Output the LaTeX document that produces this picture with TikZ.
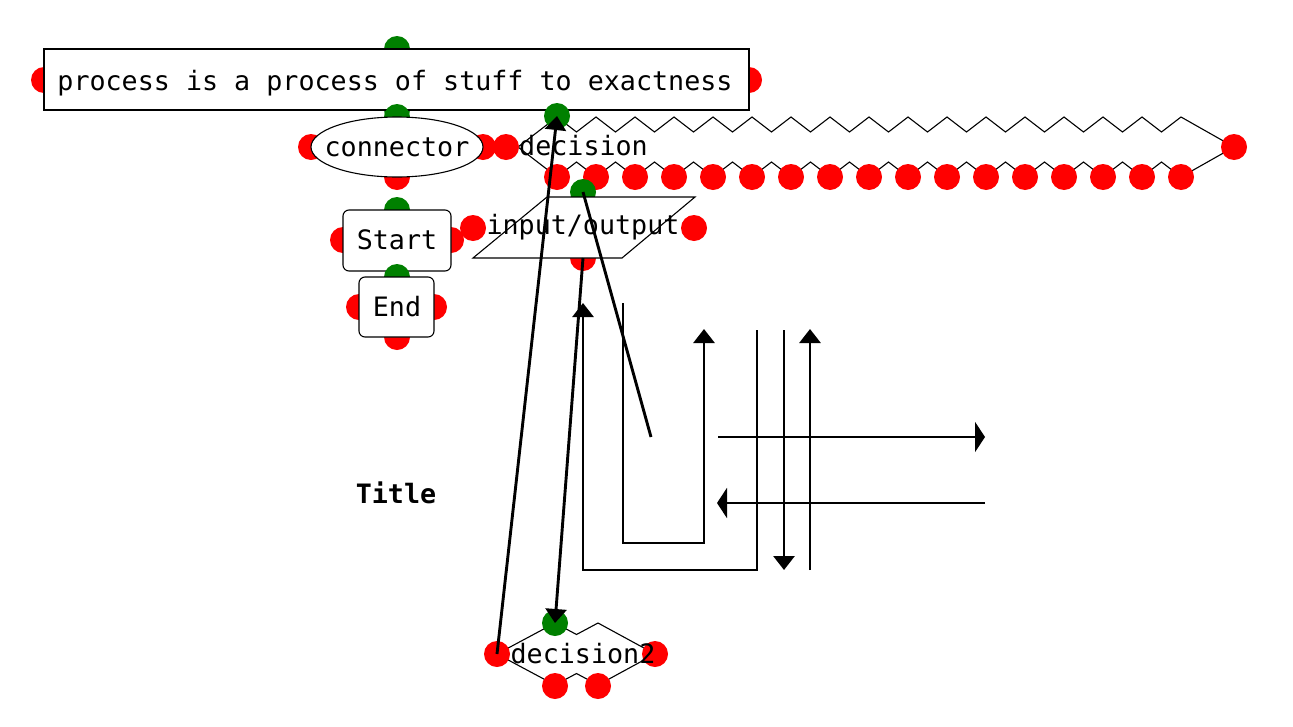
\documentclass[tikz,border=0pt]{standalone}
\usepackage{fontspec}
\setmainfont{DejaVu Sans Mono}
\usetikzlibrary{shapes.geometric,arrows.meta}
\definecolor{dkgreen}{RGB}{0,128,0}
\tikzset{
  reddot/.style={circle,fill=red,minimum size=26pt,inner sep=0pt,outer sep=0pt},
  greendot/.style={circle,fill=dkgreen,minimum size=26pt,inner sep=0pt,outer sep=0pt},
  shapeline/.style={draw=black,line width=1.1pt},
  txt/.style={font=\fontsize{26.7}{30}\selectfont,inner sep=0pt,anchor=base},
  conn/.style={line width=2.9pt,black},
  tipv/.style={-{Triangle[width=21pt,length=14pt]}},
  tiph/.style={-{Triangle[width=30pt,length=10pt]}},
}
\begin{document}
\begin{tikzpicture}[x=1pt,y=-1pt]
\useasboundingbox[fill=white] (0,0) rectangle (1293,726);
% ---- process
\node[greendot] (pt) at (397,49) {};
\node[greendot] (pb) at (397,110) {};
\node[reddot] (pl) at (44,80) {};
\node[reddot] (pr) at (749,80) {};
\node[shapeline,fill=white,minimum width=705pt,minimum height=61pt,inner sep=0pt] (proc) at (396.5,79.5) {};
\node[txt] (proctxt) at (395,90) {process is a process of stuff to exactness};
% ---- connector
\node[greendot] (ct) at (397,117) {};
\node[reddot] (cb) at (397,177) {};
\node[reddot] (cl) at (311,147) {};
\node[reddot] (cr) at (483,147) {};
\draw[shapeline,fill=white] (397,147) ellipse [x radius=86, y radius=30];
\node[txt] (conntxt) at (397,156) {connector};
% ---- decision
\draw[shapeline,line join=miter] (518,147) -- (557,117)
  \foreach \k in {1,...,16} { -- ({557+39*\k-19.5},132) -- ({557+39*\k},117) }
  -- (1234,147) -- (1181,177)
  \foreach \k in {15,...,0} { -- ({557+39*\k+19.5},162) -- ({557+39*\k},177) }
  -- cycle;
\node[greendot] (dt) at (557,116) {};
\node[reddot] (dl) at (506,147) {};
\node[reddot] (dr) at (1234,147) {};
\foreach \k in {0,...,16} \node[reddot] (db\k) at ({557+39*\k},177) {};
\node[txt] (dectxt) at (583.5,155) {decision};
% ---- start
\node[greendot] (st) at (397,210) {};
\node[reddot] (sl) at (343,240) {};
\node[reddot] (sr) at (451,240) {};
\node[shapeline,fill=white,rounded corners=6pt,minimum width=108pt,minimum height=61pt,inner sep=0pt] (start) at (397,240.5) {};
\node[txt] (starttxt) at (397,249) {Start};
% ---- end
\node[greendot] (et) at (397,277) {};
\node[reddot] (el) at (359,307) {};
\node[reddot] (er) at (434,307) {};
\node[reddot] (eb) at (397,337) {};
\node[shapeline,fill=white,rounded corners=6pt,minimum width=75pt,minimum height=60pt,inner sep=0pt] (endbox) at (396.5,307) {};
\node[txt] (endtxt) at (397,316) {End};
% ---- input/output
\node[greendot] (iot) at (583,192) {};
\node[reddot] (iol) at (473,228) {};
\node[reddot] (ior) at (694,228) {};
\node[reddot] (iob) at (583,258) {};
\draw[shapeline,fill=white] (547,197) -- (695,197) -- (622,258) -- (473,258) -- cycle;
\node[txt] (iotxt) at (583,234) {input/output};
% ---- decision2
\draw[shapeline,line join=miter] (497,654) -- (555,623) -- (576.5,634.5) -- (598,623) -- (655,654)
  -- (598,685) -- (576.5,673.5) -- (555,685) -- cycle;
\node[greendot] (d2t) at (555,623) {};
\node[reddot] (d2l) at (497,654) {};
\node[reddot] (d2r) at (655,654) {};
\node[reddot] (d2ba) at (555,686) {};
\node[reddot] (d2bb) at (598,686) {};
\node[txt] (d2txt) at (583,663) {decision2};
% ---- title
\node[txt,font=\fontsize{26.7}{30}\selectfont\bfseries] (title) at (396,503) {Title};
% ---- free coordinates
\coordinate (f1) at (651,437);
\coordinate (a1) at (757,330);
\coordinate (a1c) at (757,570);
\coordinate (a2c) at (583,570);
\coordinate (a2) at (583,303);
\coordinate (b1) at (623,303);
\coordinate (b1c) at (623,543);
\coordinate (b2c) at (704,543);
\coordinate (b2) at (704,329);
\coordinate (c1) at (784,330);
\coordinate (c2) at (784,570);
\coordinate (e1) at (810,570);
\coordinate (e2) at (810,329);
\coordinate (g1) at (718,437);
\coordinate (g2) at (985,437);
\coordinate (h1) at (985,503);
\coordinate (h2) at (717,503);
% ---- connectors
\draw[conn,tipv] (d2l.center) -- (dt.center);
\draw[conn] (iot.center) -- (f1);
\draw[conn,tipv] (iob.center) -- (d2t.center);
\draw[conn,tipv] (a1) -- (a1c) -- (a2c) -- (a2);
\draw[conn,tipv] (b1) -- (b1c) -- (b2c) -- (b2);
\draw[conn,tipv] (c1) -- (c2);
\draw[conn,tipv] (e1) -- (e2);
\draw[conn,tiph] (g1) -- (g2);
\draw[conn,tiph] (h1) -- (h2);
\end{tikzpicture}
\end{document}
